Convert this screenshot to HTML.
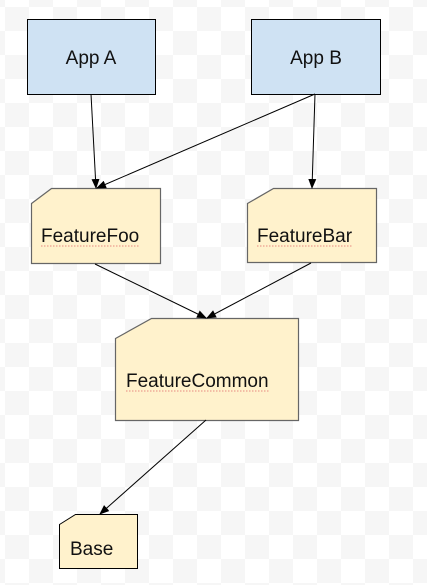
<!DOCTYPE html>
<html><head><meta charset="utf-8"><style>
html,body{margin:0;padding:0;}
body{width:427px;height:585px;overflow:hidden;position:relative;
background-color:#fff;
background-image:linear-gradient(45deg,#f6f6f6 25%,transparent 25%,transparent 75%,#f6f6f6 75%),linear-gradient(45deg,#f6f6f6 25%,transparent 25%,transparent 75%,#f6f6f6 75%);
background-size:48px 48px;background-position:5px -17px,29px 7px;}
svg{position:absolute;left:0;top:0;}
text{font-family:"Liberation Sans",Arial,sans-serif;font-size:19px;fill:#111;}
</style></head><body>
<svg width="427" height="585" viewBox="0 0 427 585">
<defs><marker id="a" markerWidth="10" markerHeight="10" refX="9" refY="5" orient="auto" markerUnits="userSpaceOnUse"><path d="M0,1 L10,5 L0,9 z" fill="#000"/></marker></defs>
<rect x="27.5" y="19.5" width="128" height="75" fill="#cfe2f3" stroke="#000" stroke-width="1"/>
<rect x="251.5" y="19.5" width="129" height="75" fill="#cfe2f3" stroke="#000" stroke-width="1"/>
<text x="91" y="64" text-anchor="middle">App A</text>
<text x="316" y="64" text-anchor="middle">App B</text>
<path d="M31.5,203.5 L51.5,188.5 L160.5,188.5 L160.5,263.5 L31.5,263.5 Z" fill="#fff2cc" stroke="#666" stroke-width="1.2"/>
<path d="M247.5,203.5 L273.5,188.5 L376.5,188.5 L376.5,262.5 L247.5,262.5 Z" fill="#fff2cc" stroke="#666" stroke-width="1.2"/>
<path d="M115.5,338.5 L151.5,318.5 L298.5,318.5 L298.5,420.5 L115.5,420.5 Z" fill="#fff2cc" stroke="#666" stroke-width="1.2"/>
<path d="M59.5,524.5 L75.5,514.5 L137.5,514.5 L137.5,568.5 L59.5,568.5 Z" fill="#fff2cc" stroke="#000" stroke-width="1"/>
<text x="41" y="242">FeatureFoo</text>
<text x="257" y="242">FeatureBar</text>
<text x="126" y="387">FeatureCommon</text>
<text x="70" y="555">Base</text>
<g stroke="#e06666" stroke-width="0.8" fill="none" stroke-dasharray="1.5,1.5">
<line x1="41" y1="246" x2="140" y2="246"/>
<line x1="257" y1="246" x2="352" y2="246"/>
<line x1="126" y1="391" x2="269" y2="391"/>
</g>
<g stroke="#000" stroke-width="1" fill="none" marker-end="url(#a)">
<line x1="91" y1="94" x2="96" y2="188"/>
<line x1="315" y1="94" x2="97" y2="188"/>
<line x1="315" y1="94" x2="312" y2="188"/>
<line x1="95" y1="264" x2="206" y2="318"/>
<line x1="311" y1="263" x2="207" y2="318"/>
<line x1="206" y1="420" x2="100" y2="514"/>
</g>
</svg>
</body></html>
